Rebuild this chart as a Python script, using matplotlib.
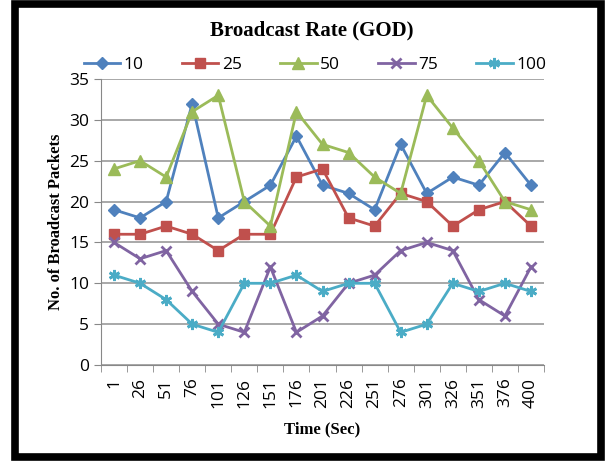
import matplotlib.pyplot as plt
from matplotlib.patches import Rectangle

# time steps on the x axis
times = ['1', '26', '51', '76', '101', '126', '151', '176', '201', '226',
         '251', '276', '301', '326', '351', '376', '400']

# broadcast packets per node count
nodes_10 = [19, 18, 20, 32, 18, 20, 22, 28, 22, 21, 19, 27, 21, 23, 22, 26, 22]
nodes_25 = [16, 16, 17, 16, 14, 16, 16, 23, 24, 18, 17, 21, 20, 17, 19, 20, 17]
nodes_50 = [24, 25, 23, 31, 33, 20, 17, 31, 27, 26, 23, 21, 33, 29, 25, 20, 19]
nodes_75 = [15, 13, 14, 9, 5, 4, 12, 4, 6, 10, 11, 14, 15, 14, 8, 6, 12]
nodes_100 = [11, 10, 8, 5, 4, 10, 10, 11, 9, 10, 10, 4, 5, 10, 9, 10, 9]

series = [
    ('10', nodes_10, '#4F81BD', 'D', 6),
    ('25', nodes_25, '#C0504D', 's', 7),
    ('50', nodes_50, '#9BBB59', '^', 8),
    ('75', nodes_75, '#8064A2', 'x', 7),
    ('100', nodes_100, '#4BACC6', (6, 2, 0), 8),
]

fig = plt.figure(figsize=(6.05, 4.61), dpi=100)
W, H = 605, 461

# black frame round the whole chart
fig.patches.append(Rectangle((14.5 / W, 4.5 / H), 586 / W, 452 / H, transform=fig.transFigure,
                             fill=False, edgecolor='black', linewidth=5.5))

ax = fig.add_axes([101 / W, 1 - 365 / H, 443 / W, 286 / H])

x = list(range(len(times)))
for name, vals, color, marker, ms in series:
    mew = 2 if marker in ('x', (6, 2, 0)) else 1
    ax.plot(x, vals, color=color, linewidth=2, marker=marker, markersize=ms,
            markeredgewidth=mew, label=name)

ax.set_xlim(-0.5, len(times) - 0.5)
ax.set_ylim(0, 35)
ax.set_yticks(range(0, 36, 5))
ax.set_xticks(x)
ax.set_xticklabels(times, rotation=90, fontsize=12.5, family='Open Sans')
ax.set_xticks([i - 0.5 for i in range(len(times) + 1)], minor=True)
ax.tick_params(axis='x', which='major', length=0, pad=9)
ax.tick_params(axis='x', which='minor', length=5, color='#888888')
ax.tick_params(axis='y', length=5, color='#888888', labelsize=12.5)
for lab in ax.get_yticklabels():
    lab.set_family('Open Sans')

ax.grid(axis='y', color='#999999', linewidth=1.2)
ax.set_axisbelow(True)
for side in ('top', 'right'):
    ax.spines[side].set_visible(False)
for side in ('left', 'bottom'):
    ax.spines[side].set_color('#888888')

ax.set_ylabel('No. of Broadcast Packets', family='Liberation Serif', fontweight='bold', fontsize=12)
ax.set_xlabel('Time (Sec)', family='Liberation Serif', fontweight='bold', fontsize=12, labelpad=10)
fig.text(312 / W, 1 - 30 / H, 'Broadcast Rate (GOD)', ha='center', va='center',
         family='Liberation Serif', fontweight='bold', fontsize=15)

fig.legend(loc='center', bbox_to_anchor=(315 / W, 1 - 65 / H), ncol=5, frameon=False,
           prop={'family': 'Open Sans', 'size': 12.5}, columnspacing=2.2, handlelength=2.1,
           handletextpad=0.2)

fig.savefig('out.png', dpi=100)
